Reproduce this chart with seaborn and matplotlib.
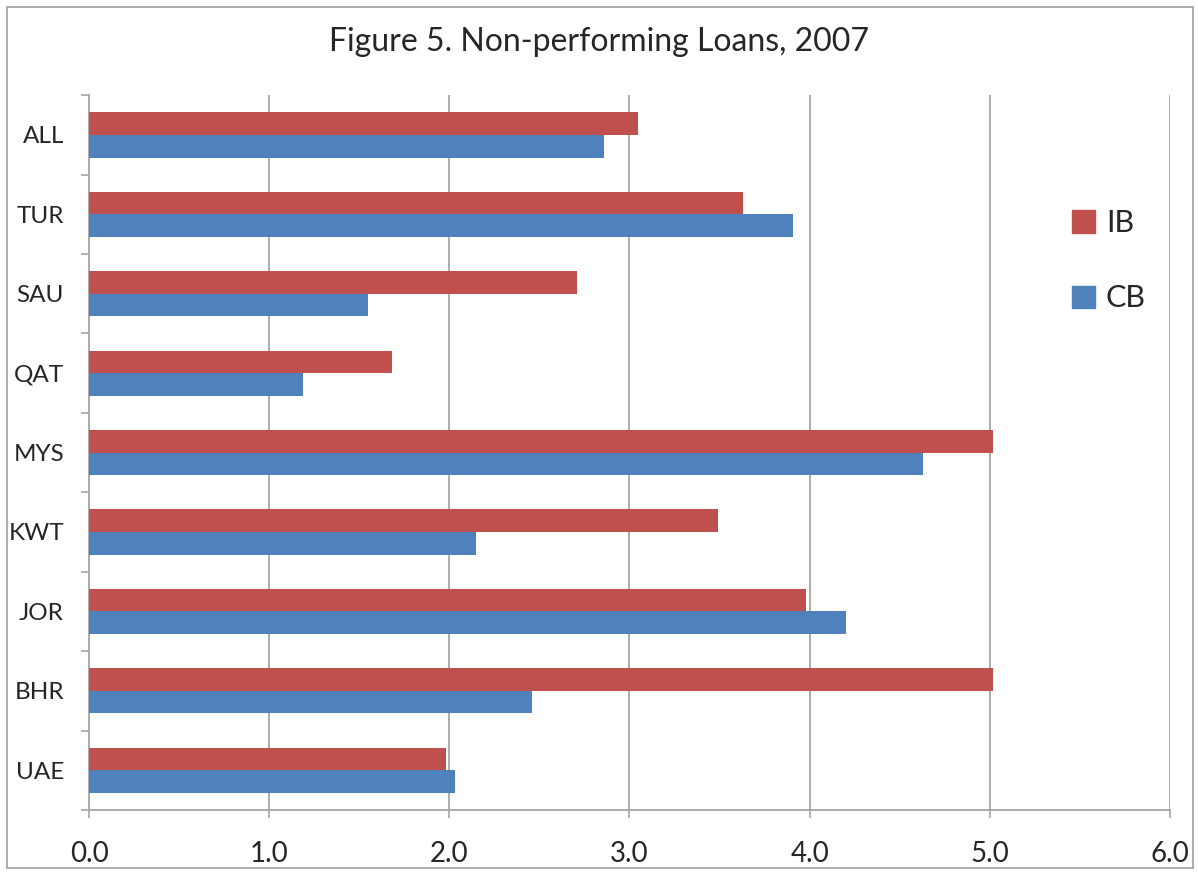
import matplotlib
matplotlib.use("Agg")
import matplotlib.pyplot as plt
import seaborn as sns
import pandas as pd
from matplotlib.patches import Rectangle

categories = ["ALL", "TUR", "SAU", "QAT", "MYS", "KWT", "JOR", "BHR", "UAE"]
ib_values = [3.05, 3.63, 2.71, 1.68, 5.02, 3.49, 3.98, 5.02, 1.98]
cb_values = [2.86, 3.91, 1.55, 1.19, 4.63, 2.15, 4.20, 2.46, 2.03]
series = ["IB", "CB"]
x_ticks = [0.0, 1.0, 2.0, 3.0, 4.0, 5.0, 6.0]

df = pd.DataFrame({
    "country": categories * 2,
    "value": ib_values + cb_values,
    "series": ["IB"] * len(categories) + ["CB"] * len(categories),
})

sns.set_theme(style="white")
plt.rcParams['font.family'] = ['Lato', 'DejaVu Sans']

fig = plt.figure(figsize=(11.98, 8.73), dpi=100)
ax = fig.add_axes([0.0743, 0.0722, 0.9023, 0.8188])

palette = {"IB": "#C0504D", "CB": "#4F81BD"}
sns.barplot(data=df, y="country", x="value", hue="series", hue_order=series,
            order=categories, palette=palette, orient="h", width=0.57,
            saturation=1, ax=ax, legend=True, zorder=3, linewidth=0)

ax.set_xlim(0, 6)
ax.set_xticks(x_ticks)
ax.set_xticklabels([f"{t:.1f}" for t in x_ticks], fontsize=20)
ax.set_ylim(len(categories) - 0.5, -0.5)
ax.set_xlabel("")
ax.set_ylabel("")
ax.xaxis.grid(True, color="#A6A6A6", linewidth=1.3, zorder=0)
ax.set_axisbelow(True)

# category tick marks on boundaries, labels at centers
ax.set_yticks(range(len(categories)))
ax.set_yticklabels(categories, fontsize=17.5)
ax.tick_params(axis="y", which="major", length=0, pad=18)
ax.set_yticks([i - 0.5 for i in range(len(categories) + 1)], minor=True)
ax.tick_params(axis="y", which="minor", length=6, width=1.2, color="#A6A6A6", direction="out", left=True)
ax.tick_params(axis="x", which="major", length=6, width=1.2, color="#A6A6A6", direction="out", bottom=True, pad=16)

for s in ["top", "right"]:
    ax.spines[s].set_visible(False)
for s in ["left", "bottom"]:
    ax.spines[s].set_color("#A6A6A6")
    ax.spines[s].set_linewidth(1.3)

ax.get_legend().remove()
handles = [Rectangle((0, 0), 1, 1, color=palette[s]) for s in series]
fig.legend(handles, series, loc="upper left", bbox_to_anchor=(0.872, 0.792),
           frameon=False, fontsize=22, labelspacing=1.55, handlelength=0.75,
           handleheight=0.75, handletextpad=0.35)

fig.text(0.5, 0.952, "Figure 5. Non-performing Loans, 2007", ha="center", va="center",
         fontsize=23)

fig.patches.append(Rectangle((0.006, 0.006), 0.99, 0.986, transform=fig.transFigure,
                             fill=False, edgecolor="#A6A6A6", linewidth=1.3))

fig.savefig("out.png", dpi=100)
